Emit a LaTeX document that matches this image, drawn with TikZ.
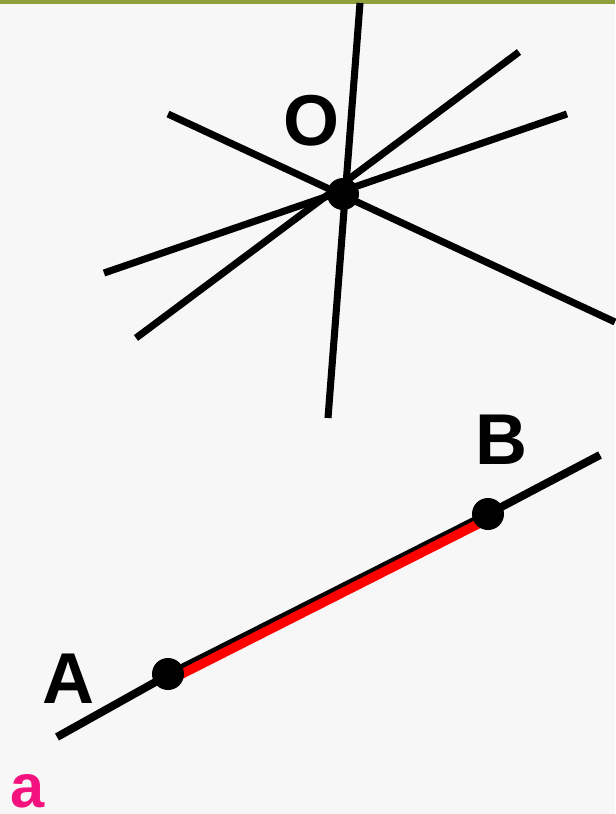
\documentclass[tikz,border=0pt]{standalone}
\usepackage{fontspec}
\setmainfont{Liberation Sans}
\definecolor{bg}{HTML}{F7F7F7}
\definecolor{topline}{HTML}{8E9F3C}
\definecolor{pinka}{HTML}{F4127F}
\begin{document}
\begin{tikzpicture}[x=0.75pt,y=-0.75pt,
  ln/.style={line width=5.3pt,black},
  abln/.style={line width=6pt,black},
  seg/.style={line width=7pt,red},
  dot/.style={circle,fill=black,inner sep=0pt,minimum size=24pt},
  lbl/.style={font=\fontsize{54}{64}\selectfont\bfseries,inner sep=0pt}]
\fill[bg] (0,0) rectangle (615,814);
\useasboundingbox (0,0) rectangle (615,814);
\draw[topline,line width=3pt] (0,2) -- (615,2);
% lines through O
\coordinate (l1a) at (360,3); \coordinate (l1b) at (328,418);
\coordinate (l2a) at (168,114); \coordinate (l2b) at (615,322);
\coordinate (l3a) at (104,273); \coordinate (l3b) at (567,114);
\coordinate (l4a) at (136,338); \coordinate (l4b) at (519,52);
\draw[ln] (l1a) -- (l1b);
\draw[ln] (l2a) -- (l2b);
\draw[ln] (l3a) -- (l3b);
\draw[ln] (l4a) -- (l4b);
\node[dot] (O) at (343,194) {};
\node[lbl] (Ol) at (311,121) {O};
% line AB
\coordinate (e1) at (57,737); \coordinate (e2) at (600,455);
\coordinate (pa) at (168,675); \coordinate (pb) at (488,514);
\coordinate (ra) at (168,681); \coordinate (rb) at (484,521);
\draw[abln] (e1) -- (pa) -- (pb) -- (e2);
\draw[seg] (ra) -- (rb);
\node[dot] (A) at (168,674) {};
\node[dot] (B) at (488,514) {};
\node[lbl] (Al) at (68,679) {A};
\node[lbl] (Bl) at (501,440) {B};
\node[font=\fontsize{46}{54}\selectfont\bfseries,inner sep=0pt,text=pinka] (a) at (28,791) {a};
\end{tikzpicture}
\end{document}
